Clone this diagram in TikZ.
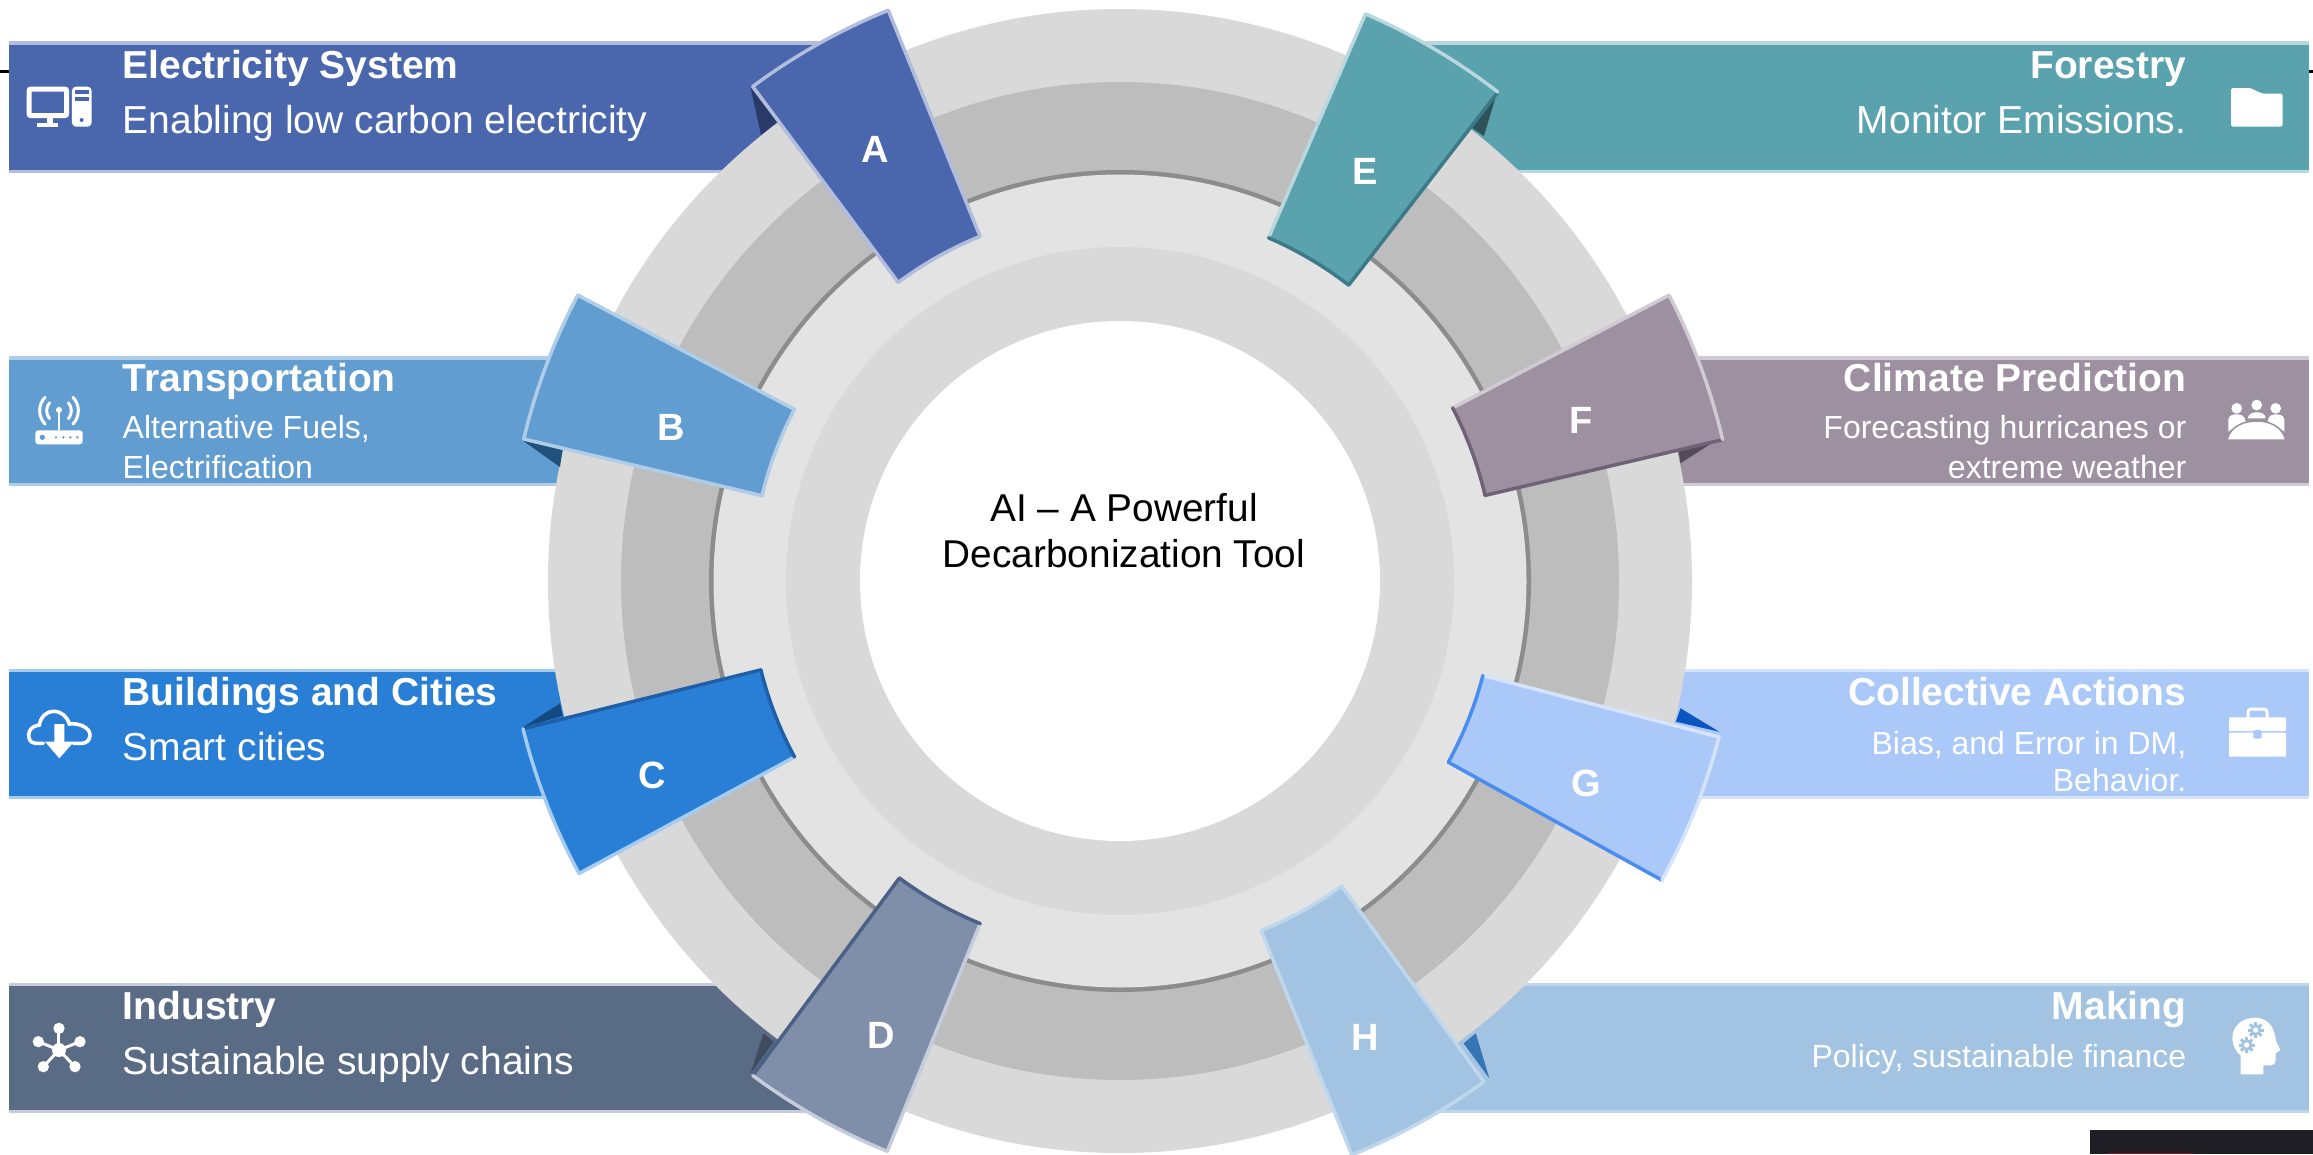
\documentclass[tikz,border=0pt]{standalone}
\usepackage{fontspec}
\setmainfont{Liberation Sans}
\usetikzlibrary{calc}
\newcommand{\bandbar}[6]{%
  \fill[#6] (#1,#3) rectangle (#2,#4);
  \fill[#5] (#1,#3+3.5) rectangle (#2,#4-3.5);}
% a1 a2 Ro Ri fill outer side(a2) inner side(a1)
\newcommand{\flagshape}[9]{%
  \fill[#5] ($(1120,581)+(#1:#3)$) arc[start angle=#1,end angle=#2,radius=#3]
    -- ($(1120,581)+(#2:#4)$) arc[start angle=#2,end angle=#1,radius=#4] -- cycle;
  \draw[edgeline,#7] ($(1120,581)+(#2:#3)$) -- ($(1120,581)+(#2:#4)$);
  \draw[edgeline,#9] ($(1120,581)+(#1:#3)$) -- ($(1120,581)+(#1:#4)$);
  \draw[edgeline,#6] ($(1120,581)+(#1:#3)$) arc[start angle=#1,end angle=#2,radius=#3];
  \draw[edgeline,#8] ($(1120,581)+(#2:#4)$) arc[start angle=#2,end angle=#1,radius=#4];}
\definecolor{barA}{HTML}{4A66AC}\definecolor{litA}{HTML}{B2BCDD}\definecolor{dkA}{HTML}{2A3A68}
\definecolor{barB}{HTML}{629DD1}\definecolor{litB}{HTML}{B0CDE8}\definecolor{dkB}{HTML}{21507C}
\definecolor{barC}{HTML}{297FD5}\definecolor{litC}{HTML}{A5CCF0}\definecolor{dkC}{HTML}{134A80}\definecolor{midC}{HTML}{1F5FA8}
\definecolor{barD}{HTML}{5A6B86}\definecolor{litD}{HTML}{C5CCDC}\definecolor{dkD}{HTML}{3F4B5F}\definecolor{flagD}{HTML}{7F8FA9}\definecolor{midD}{HTML}{4A6085}
\definecolor{barE}{HTML}{5AA2AE}\definecolor{litE}{HTML}{B8D8DE}\definecolor{dkE}{HTML}{2D5258}\definecolor{midE}{HTML}{3D7A88}
\definecolor{barF}{HTML}{9D90A0}\definecolor{litF}{HTML}{D0CAD3}\definecolor{dkF}{HTML}{544B58}\definecolor{midF}{HTML}{6F6276}
\definecolor{barG}{HTML}{ABC9F8}\definecolor{litG}{HTML}{D5E4FB}\definecolor{dkG}{HTML}{0B55C0}\definecolor{midG}{HTML}{4A8CF0}
\definecolor{barH}{HTML}{A2C3E1}\definecolor{litH}{HTML}{BFD7EC}\definecolor{dkH}{HTML}{3575B5}
\definecolor{ringa}{HTML}{D9D9D9}\definecolor{ringb}{HTML}{BDBDBD}\definecolor{ringc}{HTML}{8C8C8C}\definecolor{ringd}{HTML}{E3E3E3}
\definecolor{nearblack}{HTML}{1E1E24}\definecolor{darkred}{HTML}{8A1414}
\tikzset{
  edgeline/.style={line width=3.5pt,line cap=round},
  ttl/.style={inner sep=0pt,text=white,font=\fontsize{39}{39}\selectfont\bfseries},
  subl/.style={inner sep=0pt,text=white,font=\fontsize{39}{39}\selectfont},
  subs/.style={inner sep=0pt,text=white,font=\fontsize{32}{32}\selectfont},
  lett/.style={inner sep=0pt,text=white,font=\fontsize{38}{38}\selectfont\bfseries},
  centertxt/.style={inner sep=0pt,text=black,font=\fontsize{38.8}{38.8}\selectfont},
}
\begin{document}
\begin{tikzpicture}[x=1pt,y=1pt]
\begin{scope}[yscale=-1]
\useasboundingbox (0,0) rectangle (2313,1154);
\clip (0,0) rectangle (2313,1154);
% stray marks
\fill[black] (0,69.5) rectangle (9,72.5);
\fill[black] (2308,69.5) rectangle (2313,72.5);
\fill[nearblack] (2090,1130) rectangle (2313,1154);
\fill[darkred] (2107,1153) rectangle (2194,1154);
% bars
\bandbar{9}{880}{41}{173}{barA}{litA}
\bandbar{9}{650}{356}{486}{barB}{litB}
\bandbar{9}{650}{668.5}{799}{barC}{litC}
\bandbar{9}{860}{982.5}{1113}{barD}{litD}
\bandbar{1370}{2309}{41}{173}{barE}{litE}
\bandbar{1600}{2309}{356}{486}{barF}{litF}
\bandbar{1600}{2309}{668.5}{799}{barG}{litG}
\bandbar{1380}{2309}{982.5}{1113}{barH}{litH}
% rings
\fill[ringa] (1120,581) circle[radius=572];
\fill[ringb] (1120,581) circle[radius=499];
\fill[ringc] (1120,581) circle[radius=411];
\fill[ringd] (1120,581) circle[radius=406.5];
\fill[ringa] (1120,581) circle[radius=334];
\fill[white] (1120,581) circle[radius=260];
% folds
\fill[dkA] (750.6,87.7) -- (761,135) -- (777,122) -- cycle;
\fill[dkB] (523,440.7) -- (560,467) -- (562.5,450) -- cycle;
\fill[dkC] (523,727.3) -- (560,703.3) -- (562.5,716) -- cycle;
\fill[dkD] (750.6,1073.3) -- (763.4,1033.3) -- (773.6,1041.7) -- cycle;
\fill[dkE] (1497.5,90.7) -- (1483.9,136) -- (1470.3,126.7) -- cycle;
\fill[dkF] (1723.2,435.7) -- (1680.5,463.3) -- (1678.5,450) -- cycle;
\fill[dkG] (1719.2,731.7) -- (1680.5,708.3) -- (1675.8,721.7) -- cycle;
\fill[dkH] (1489.3,1078.3) -- (1475.8,1033.3) -- (1463.6,1043.3) -- cycle;
% flags
\flagshape{233.4}{247.9}{616}{372}{barA}{litA}{litA}{litA}{litA}
\flagshape{193.4}{207.8}{613}{368}{barB}{litB}{litB}{litB}{litB}
\flagshape{151.6}{166.1}{615}{370}{barC}{litC}{midC}{midC}{litC}
\flagshape{112.2}{126.6}{616}{370}{flagD}{litD}{midD}{midD}{litD}
\flagshape{-66.6}{-52.3}{618}{374}{barE}{litE}{midE}{midE}{litE}
\flagshape{-27.5}{-13.2}{619}{375}{barF}{litF}{midF}{midF}{litF}
\flagshape{14.6}{28.9}{619}{375}{barG}{litG}{midG}{midG}{litG}
\flagshape{54}{68}{619}{377}{barH}{litH}{litH}{litH}{litH}
% letters
\node[lett] (la) at (875,149.5) {A};
\node[lett] (lb) at (671.5,427.5) {B};
\node[lett] (lc) at (652.5,775) {C};
\node[lett] (ld) at (881,1035.5) {D};
\node[lett] (le) at (1365,171) {E};
\node[lett] (lf) at (1581,420.5) {F};
\node[lett] (lg) at (1586,783.5) {G};
\node[lett] (lh) at (1365,1037) {H};
% centre
\node[centertxt,anchor=base] (c1) at (1124,521) {AI – A Powerful};
\node[centertxt,anchor=base] (c2) at (1124,567.3) {Decarbonization Tool};
% left texts
\node[ttl,anchor=base west] (ta) at (122.5,78.3) {Electricity System};
\node[subl,anchor=base west] (sa) at (122.5,133.5) {Enabling low carbon electricity};
\node[ttl,anchor=base west] (tb) at (122.5,391.5) {Transportation};
\node[subs,anchor=base west] (sb1) at (122.5,438.8) {Alternative Fuels,};
\node[subs,anchor=base west] (sb2) at (122.5,478.5) {Electrification};
\node[ttl,anchor=base west] (tc) at (122.5,705.2) {Buildings and Cities};
\node[subl,anchor=base west] (sc) at (122.5,760) {Smart cities};
\node[ttl,anchor=base west] (td) at (122.5,1019) {Industry};
\node[subl,anchor=base west] (sd) at (122.5,1074) {Sustainable supply chains};
% right texts
\node[ttl,anchor=base east] (te) at (2186.5,78.3) {Forestry};
\node[subl,anchor=base east] (se) at (2186.5,133.5) {Monitor Emissions.};
\node[ttl,anchor=base east] (tf) at (2186.5,391.5) {Climate Prediction};
\node[subs,anchor=base east] (sf1) at (2186.5,438.8) {Forecasting hurricanes or};
\node[subs,anchor=base east] (sf2) at (2186.5,478.5) {extreme weather};
\node[ttl,anchor=base east] (tg) at (2186.5,705.2) {Collective Actions};
\node[subs,anchor=base east] (sg1) at (2186.5,754) {Bias, and Error in DM,};
\node[subs,anchor=base east] (sg2) at (2186.5,791.8) {Behavior.};
\node[ttl,anchor=base east] (th) at (2186.5,1019) {Making};
\node[subs,anchor=base east] (sh) at (2186.5,1067.5) {Policy, sustainable finance};
% icon: computer
\begin{scope}[shift={(10,70)},scale=1/3]
  \draw[white,line width=5pt,rounded corners=2pt] (57,57) rectangle (170,137);
  \fill[white] (110,145) rectangle (130,158);
  \fill[white] (82,158) rectangle (145,170);
  \fill[white,rounded corners=4pt] (186,50) rectangle (245,170);
  \fill[barA] (194,60) rectangle (237,73);
  \fill[barA] (194,82) rectangle (237,94);
  \fill[barA] (215,150) circle[radius=6];
\end{scope}
% icon: router
\begin{scope}[shift={(10,385)},scale=1/3]
  \fill[white,rounded corners=3pt] (76,136) rectangle (218,178);
  \fill[barB] (97,157) circle[radius=8];
  \foreach \xx in {138,160,181,202} \fill[barB] (\xx,157) circle[radius=4];
  \draw[white,line width=2.4pt] (147,75) -- (147,136);
  \fill[white] (147,75) circle[radius=9];
  \foreach \rr/\aa in {37/40,58/44}{
    \draw[white,line width=3pt,line cap=round] (147,77)+(180-\aa:\rr) arc[start angle=180-\aa,end angle=180+\aa,radius=\rr];
    \draw[white,line width=3pt,line cap=round] (147,77)+(-\aa:\rr) arc[start angle=-\aa,end angle=\aa,radius=\rr];
  }
\end{scope}
% icon: cloud
\begin{scope}[shift={(10,700)},scale=1/3]
  \draw[white,line width=3.6pt,line cap=round]
    (100,130) -- (78,130) .. controls (60,130) and (56,115) .. (56,105)
    .. controls (56,90) and (68,77) .. (88,75)
    .. controls (92,50) and (110,34) .. (130,34)
    .. controls (155,34) and (172,50) .. (178,72)
    .. controls (205,68) and (240,82) .. (240,105)
    .. controls (240,120) and (230,130) .. (215,130) -- (190,130);
  \fill[white] (133,72) -- (163,72) -- (163,125) -- (192,125) -- (148,175) -- (105,125) -- (133,125) -- cycle;
\end{scope}
% icon: network
\begin{scope}[shift={(10,1015)},scale=1/3]
  \foreach \xx/\yy in {147/40,85/80,210/80,100/155,195/155}{
    \draw[white,line width=3pt] (147,105) -- (\xx,\yy);
    \fill[white] (\xx,\yy) circle[radius=17];
  }
  \fill[white] (147,105) circle[radius=21];
\end{scope}
% icon: folder
\fill[white,rounded corners=1.5pt] (2231,88) -- (2250,88) -- (2262,93.5) -- (2282.5,93.5) -- (2282.5,126.7) -- (2231,126.7) -- cycle;
% icon: people at a table
\begin{scope}[shift={(2205,385)},scale=1/3]
  \fill[white] (95,70) circle[radius=16];
  \fill[white] (155,60) circle[radius=16];
  \fill[white] (212,70) circle[radius=16];
  \fill[white] (70,140) -- (70,103) .. controls (72,90) and (85,88) .. (95,88) .. controls (108,88) and (120,92) .. (122,110) -- (90,125) -- cycle;
  \fill[white] (128,100) .. controls (130,85) and (145,82) .. (155,82) .. controls (168,82) and (180,85) .. (182,100) -- cycle;
  \fill[white] (238,140) -- (238,103) .. controls (236,90) and (222,88) .. (212,88) .. controls (200,88) and (190,92) .. (188,110) -- (218,125) -- cycle;
  \draw[barF,fill=white,line width=1.5pt] (66,165) .. controls (75,125) and (115,108) .. (154,108) .. controls (195,108) and (232,125) .. (242,165) -- cycle;
\end{scope}
% icon: briefcase
\begin{scope}[shift={(2205,700)},scale=1/3]
  \draw[white,line width=3pt,rounded corners=3pt] (129,55) -- (129,27) -- (186,27) -- (186,55);
  \fill[white,rounded corners=1pt] (72,52) rectangle (243,93);
  \fill[white,rounded corners=1pt] (72,98) rectangle (243,170);
  \fill[barG,rounded corners=2pt] (145,90) rectangle (170,116);
\end{scope}
% icon: head with gears
\begin{scope}[shift={(2205,1005)},scale=1/3]
  \fill[white] (107,208) -- (107,152) .. controls (92,140) and (82,120) .. (82,100)
    .. controls (82,60) and (115,38) .. (150,38)
    .. controls (190,38) and (210,70) .. (213,108)
    -- (226,135) -- (212,145) -- (212,165) .. controls (212,175) and (205,181) .. (198,181)
    -- (175,181) -- (175,208) -- cycle;
  \foreach \gx/\gy in {152/75,125/120}{
    \fill[barH] (\gx,\gy) circle[radius=17];
    \foreach \ga in {0,45,...,315}
      \draw[barH,line width=3pt] (\gx,\gy)+(\ga:14) -- +(\ga:24);
    \fill[white] (\gx,\gy) circle[radius=8];
  }
\end{scope}
\end{scope}
\end{tikzpicture}
\end{document}
